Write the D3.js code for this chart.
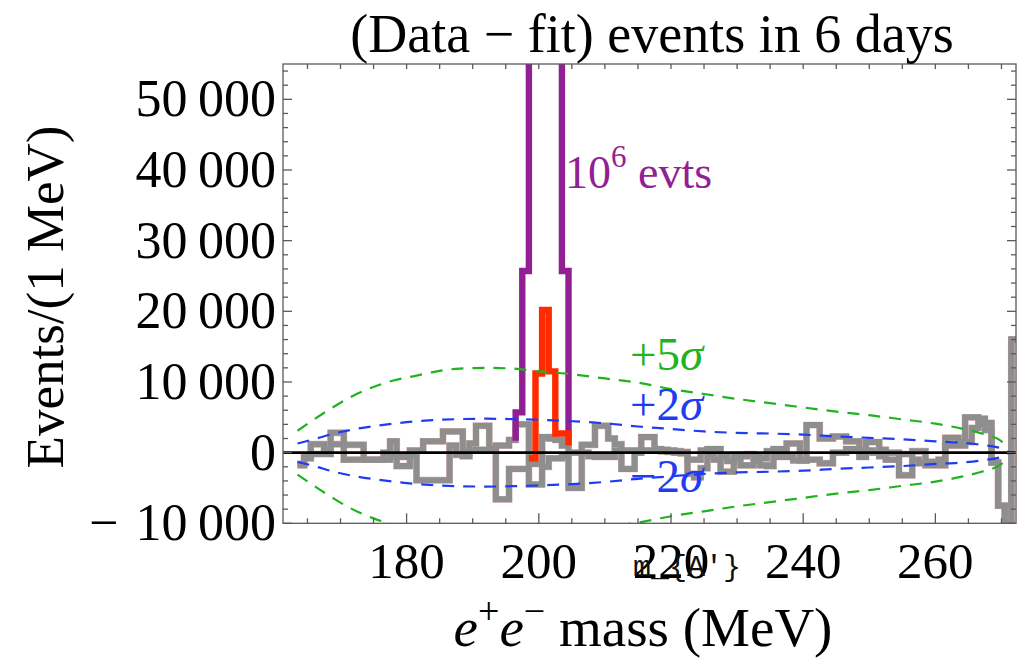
<!DOCTYPE html>
<html>
<head>
<meta charset="utf-8">
<script src="https://cdn.jsdelivr.net/npm/d3@7"></script>
<style>
  body { margin: 0; background: #fff; }
  svg { display: block; }
  text { font-family: 'Liberation Serif', 'Times New Roman', serif; }
</style>
</head>
<body>
<svg id="chart" width="1025" height="660"></svg>
<script>
// residual histogram, 1 MeV bins, first bin centred at 164 MeV, values in thousands of events
// the gray histogram shows two traces (upper and lower)
const firstBin = 164;
const residualUpper = [
  -1.6, -0.5, 1.2, 1.2, 0.4, 2.8, 2.8, 1.1, 1.1, 1.1,
  -1.0, -1.0, -1.0, 0.0, 1.6, -0.6, -0.6, 0.3, 0.3, 1.6,
  1.6, 1.6, 3.0, 3.0, 3.0, 0.0, 1.3, 3.8, 3.8, 0.6,
  1.0, 1.0, 1.8, 4.0, 4.0, -1.6, -1.6, 2.2, 2.0, 1.8,
  1.0, 0.0, 0.0, 1.1, 1.1, 3.8, 3.8, 2.0, 1.2, 0.3,
  0.3, 0.3, 2.2, 2.2, 0.5, 0.4, 0.3, 0.2, 0.1, -1.0,
  -1.0, 0.3, 0.5, 0.5, -0.5, -1.2, -0.3, -0.5, -0.2, -0.6,
  -0.8, 0.2, 0.5, 0.5, 1.3, 1.3, -1.1, 3.9, 3.9, 2.0,
  2.0, 2.3, 2.3, 1.6, 1.6, 0.2, 1.5, 1.5, 0.4, 0.0,
  0.0, -0.2, -0.2, 0.2, 0.2, -1.3, -1.3, -1.0, 2.1, 2.1,
  1.5, 5.0, 5.0, 4.8, 4.2, -1.4, -7.5, -10.5, 16.0
];
const residualLower = [
  -1.8, -0.8, -0.2, -0.2, -0.2, 1.2, 1.2, -1.0, -1.0, -1.0,
  -1.0, -1.0, -1.0, -1.0, -0.4, -1.9, -1.9, -0.3, -3.9, -3.9,
  -3.9, -3.9, -3.9, 1.0, -0.3, -0.5, 0.3, 0.4, 0.4, 0.4,
  -6.6, -6.6, -2.3, -2.3, -2.3, -4.5, -4.5, -2.0, -0.8, -0.8,
  -0.6, -5.0, -5.0, 0.0, -0.5, -0.6, -0.6, -0.6, 0.3, -2.3,
  -2.3, 0.0, 0.3, 0.3, 0.3, 0.2, 0.1, 0.0, -0.1, -3.0,
  -3.5, -2.2, -0.5, -1.0, -2.7, -2.7, -0.8, -1.8, -1.8, -1.2,
  -1.8, -1.9, -0.6, -0.6, -0.6, -1.1, -1.1, -1.0, -1.0, -1.5,
  -1.5, 0.0, 0.0, 0.5, 0.5, -0.6, 0.3, 0.0, -0.5, -1.0,
  -1.0, -3.2, -3.2, -1.0, -1.5, -1.8, -1.8, -1.8, 1.0, 1.0,
  1.0, 1.5, 3.5, 4.0, 3.2, -1.4, -7.5, -10.5, 16.0
];

// 10^6 event signal (purple), bins 197..204, thousands
const bigSignalFirst = 197;
const bigSignal = [5.7, 25.7, 150, 240, 260, 240, 150, 25.7];
const bigSignalEnds = [1.7, 1.5];

// smaller signal (red), bins 199..204
const smallSignalFirst = 199;
const smallSignal = [-0.8, 11.2, 20.2, 11.5, 2.7, 2.7];
const smallSignalEnd = 1.0;

// significance bands, thousands of events
const bandMass = [163.5, 166, 169, 172, 175, 178, 181, 184, 188, 192, 196, 200, 204, 210,
  215, 220, 225, 230, 235, 240, 245, 250, 255, 260, 264, 267, 270, 271];
const twoSigma = [1.3, 1.9, 2.7, 3.3, 3.75, 4.1, 4.4, 4.6, 4.75, 4.8, 4.75, 4.65, 4.5, 4.15,
  3.7, 3.35, 3.0, 2.8, 2.7, 2.55, 2.3, 2.1, 1.9, 1.6, 1.4, 1.1, 0.6, 0.2];
const fiveSigma = [3.1, 4.7, 6.5, 8.1, 9.3, 10.2, 10.8, 11.4, 11.9, 12.0, 11.9, 11.5, 11.2, 10.5,
  9.9, 9.0, 8.3, 7.6, 7.0, 6.4, 5.8, 5.3, 4.7, 4.1, 3.4, 2.7, 1.6, 0.5];

const xTickLabels = [180, 200, 220, 240, 260];
const yTickLabels = [-10, 0, 10, 20, 30, 40, 50];

const svg = d3.select('#chart');
const plotL = 283, plotR = 1016, plotT = 64, plotB = 523.3;

const x = d3.scaleLinear().domain([161.3, 272.2]).range([plotL, plotR]);
const y = d3.scaleLinear().domain([-10, 55]).range([plotB, plotT]);

svg.append('defs').append('clipPath').attr('id', 'plotclip')
  .append('rect')
  .attr('x', plotL).attr('y', plotT)
  .attr('width', plotR - plotL).attr('height', plotB - plotT);

const plot = svg.append('g').attr('clip-path', 'url(#plotclip)');

const stepLine = d3.line()
  .x((d) => x(d[0]))
  .y((d) => y(d[1]))
  .curve(d3.curveStepAfter);

function histPoints(first, values) {
  let pts = values.map((v, i) => [first + i - 0.5, v]);
  pts.push([first + values.length - 0.5, values[values.length - 1]]);
  return pts;
}

// gray residuals: thin rosy rim underneath, gray on top
[residualUpper, residualLower].forEach((vals) => {
  plot.append('path')
    .attr('d', stepLine(histPoints(firstBin, vals)))
    .style('fill', 'none')
    .style('stroke', '#e0b4b4')
    .style('stroke-width', 6.8)
    .style('stroke-linejoin', 'miter');
});
[residualUpper, residualLower].forEach((vals) => {
  plot.append('path')
    .attr('d', stepLine(histPoints(firstBin, vals)))
    .style('fill', 'none')
    .style('stroke', '#8e8e8e')
    .style('stroke-width', 6)
    .style('stroke-linejoin', 'miter');
});

// purple signal
let purplePts = [[bigSignalFirst - 0.5, bigSignalEnds[0]]].concat(histPoints(bigSignalFirst, bigSignal));
purplePts.push([bigSignalFirst + bigSignal.length - 0.5, bigSignalEnds[1]]);
plot.append('path')
  .attr('d', stepLine(purplePts))
  .style('fill', 'none')
  .style('stroke', '#921f93')
  .style('stroke-width', 6.4);

// red signal
let redPts = histPoints(smallSignalFirst, smallSignal);
redPts.push([smallSignalFirst + smallSignal.length - 0.5, smallSignalEnd]);
plot.append('path')
  .attr('d', stepLine(redPts))
  .style('fill', 'none')
  .style('stroke', '#ff2a00')
  .style('stroke-width', 6.4);

// dashed significance curves
const bandLine = d3.line().curve(d3.curveMonotoneX);
[[twoSigma, '#1f3cf2'], [fiveSigma, '#1fb31f']].forEach(([vals, col]) => {
  [1, -1].forEach((sgn) => {
    plot.append('path')
      .attr('d', bandLine(bandMass.map((m, i) => [x(m), y(sgn * vals[i])])))
      .style('fill', 'none')
      .style('stroke', col)
      .style('stroke-width', 2.2)
      .style('stroke-dasharray', '12,9');
  });
});

// zero line
plot.append('line')
  .attr('x1', plotL).attr('x2', plotR)
  .attr('y1', y(0)).attr('y2', y(0))
  .style('stroke', '#000')
  .style('stroke-width', 2.6);

// frame and ticks
const frame = svg.append('g').style('stroke', '#5a5a5a').style('stroke-width', 1.3);
frame.append('rect')
  .attr('x', plotL).attr('y', plotT)
  .attr('width', plotR - plotL).attr('height', plotB - plotT)
  .style('fill', 'none');

const yTicks = d3.range(-10, 55, 2);
frame.selectAll('.ytl').data(yTicks).join('line')
  .attr('class', 'ytl')
  .attr('x1', plotL).attr('x2', (d) => plotL + (d % 10 == 0 ? 9 : 5))
  .attr('y1', (d) => y(d)).attr('y2', (d) => y(d));
frame.selectAll('.ytr').data(yTicks).join('line')
  .attr('class', 'ytr')
  .attr('x1', plotR).attr('x2', (d) => plotR - (d % 10 == 0 ? 9 : 5))
  .attr('y1', (d) => y(d)).attr('y2', (d) => y(d));

const xTicks = d3.range(165, 272, 5);
frame.selectAll('.xtb').data(xTicks).join('line')
  .attr('class', 'xtb')
  .attr('x1', (d) => x(d)).attr('x2', (d) => x(d))
  .attr('y1', plotB).attr('y2', (d) => plotB - (d % 20 == 0 ? 10 : 5));
frame.selectAll('.xtt').data(xTicks).join('line')
  .attr('class', 'xtt')
  .attr('x1', (d) => x(d)).attr('x2', (d) => x(d))
  .attr('y1', plotT).attr('y2', plotT + 5);

// tick labels
const fmt = (d) => {
  if (d == 0) return '0';
  let s = d3.format(',')(Math.abs(d) * 1000).replace(',', '\u2009');
  return d < 0 ? '\u2212\u2004' + s : s;
};
svg.selectAll('.ylab').data(yTickLabels).join('text')
  .attr('class', 'ylab')
  .attr('x', 276)
  .attr('y', (d) => y(d) + 17)
  .attr('text-anchor', 'end')
  .style('font-size', '52px')
  .text(fmt);

svg.selectAll('.xlab').data(xTickLabels).join('text')
  .attr('class', 'xlab')
  .attr('x', (d) => x(d))
  .attr('y', 578)
  .attr('text-anchor', 'middle')
  .style('font-size', '51px')
  .text((d) => d);

// stray label under the axis
svg.append('text')
  .attr('x', 633).attr('y', 576)
  .style('font-family', "'Liberation Mono', 'Courier New', monospace")
  .style('font-size', '30px')
  .style('fill', '#111')
  .text("m_{A'}");

// titles
svg.append('text')
  .attr('x', 652).attr('y', 52)
  .attr('text-anchor', 'middle')
  .style('font-size', '54px')
  .text('(Data \u2212 fit) events in 6 days');

svg.append('text')
  .attr('transform', 'translate(63,297) rotate(-90)')
  .attr('text-anchor', 'middle')
  .style('font-size', '53px')
  .text('Events/(1 MeV)');

const xt = svg.append('text')
  .attr('x', 643).attr('y', 646)
  .attr('text-anchor', 'middle')
  .style('font-size', '55px');
xt.append('tspan').style('font-style', 'italic').text('e');
xt.append('tspan').attr('dy', -22).style('font-size', '38px').text('+');
xt.append('tspan').attr('dy', 22).style('font-style', 'italic').text('e');
xt.append('tspan').attr('dy', -22).style('font-size', '38px').text('\u2212');
xt.append('tspan').attr('dy', 22).text(' mass (MeV)');

// annotations
const ev = svg.append('text')
  .attr('x', 565).attr('y', 188)
  .style('font-size', '46px')
  .style('fill', '#921f93');
ev.append('tspan').text('10');
ev.append('tspan').attr('dy', -21).style('font-size', '31px').text('6');
ev.append('tspan').attr('dy', 21).text(' evts');

const sigmaLabels = [
  { t: '+5', c: '#1fb31f', yy: 370 },
  { t: '+2', c: '#1f3cf2', yy: 420 },
  { t: '\u22122', c: '#1f3cf2', yy: 492 },
];
sigmaLabels.forEach((d) => {
  const t = svg.append('text')
    .attr('x', 630).attr('y', d.yy)
    .style('font-size', '47px')
    .style('fill', d.c);
  t.append('tspan').text(d.t);
  t.append('tspan').style('font-style', 'italic').text('\u03c3');
});
</script>
</body>
</html>
